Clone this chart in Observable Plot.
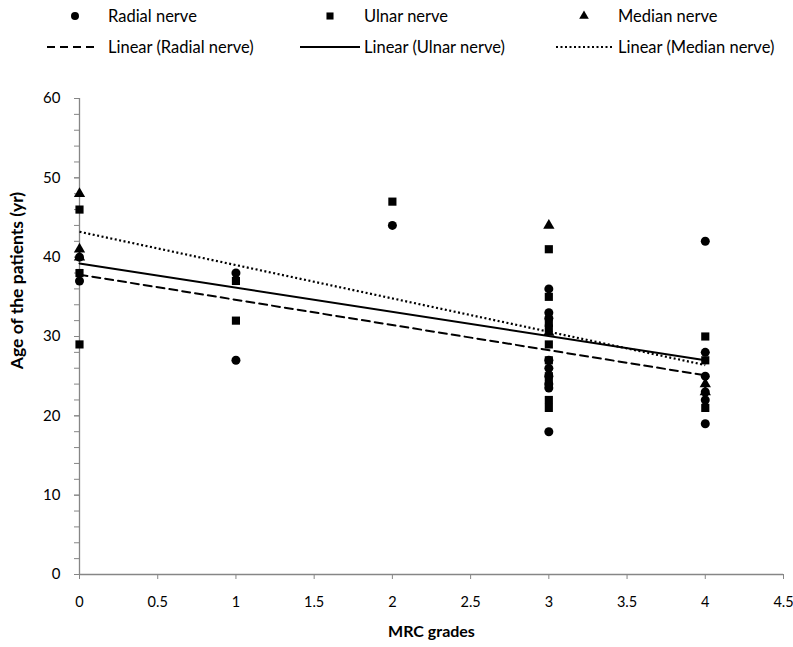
<!DOCTYPE html>
<html><head><meta charset="utf-8">
<script src="https://cdn.jsdelivr.net/npm/d3@7"></script>
<script src="https://cdn.jsdelivr.net/npm/@observablehq/plot@0.6"></script>
<style>
body{margin:0;background:#fff;font-family:Lato,"Open Sans",sans-serif;}
#wrap{position:relative;width:793px;height:647px;}
#legend{position:absolute;left:0;top:0;}
</style></head><body><div id="wrap"><div id="chart"></div></div>
<script>
// MRC grade / age data per nerve
const radialGrade = [0, 0, 1, 1, 2, 3, 3, 3, 3, 3, 3, 3, 3, 3, 4, 4, 4, 4, 4, 4];
const radialAge   = [40, 37, 38, 27, 44, 36, 33, 32.3, 27, 26, 25, 24, 23.5, 18, 42, 28, 25, 23, 22, 19];
const ulnarGrade = [0, 0, 0, 1, 1, 2, 3, 3, 3, 3, 3, 3, 3, 3, 3, 3, 4, 4, 4];
const ulnarAge   = [46, 38, 29, 37, 32, 47, 41, 35, 31.7, 31, 29, 27, 25, 24, 22, 21, 30, 27, 21];
const medianGrade = [0, 0, 0, 3, 3, 4, 4];
const medianAge   = [48, 41, 40, 44, 30.5, 24, 23];
// Linear trend lines (value at grade 0 and grade 4)
const trendGrades = [0, 4];
const radialTrend = [37.8, 25.1];
const ulnarTrend  = [39.2, 27.0];
const medianTrend = [43.2, 26.4];
const xTicks = [0, 0.5, 1, 1.5, 2, 2.5, 3, 3.5, 4, 4.5];
const yTicks = [0, 10, 20, 30, 40, 50, 60];
const yMinor = d3.range(0, 61, 2);

const pts = (g, a) => g.map((x, i) => ({x, y: a[i]}));
const tr = (v) => trendGrades.map((x, i) => ({x, y: v[i]}));
const axisCol = "#868686";
const font = "Lato, 'Open Sans', sans-serif";

const chart = Plot.plot({
  width: 793, height: 647,
  marginLeft: 79, marginRight: 10, marginTop: 98, marginBottom: 73,
  style: {fontFamily: font, fontSize: "15px", color: "#000", background: "#fff"},
  x: {domain: [0, 4.5]},
  y: {domain: [0, 60]},
  marks: [
    Plot.axisY(yMinor, {tickSize: 5, tickFormat: () => "", stroke: axisCol, label: null}),
    Plot.axisY(yTicks, {tickSize: 5, tickPadding: 14, stroke: axisCol, fill: "#000", fontSize: 15, label: null}),
    Plot.axisX(xTicks, {tickSize: 5, tickPadding: 17, stroke: axisCol, fill: "#000", fontSize: 14.5, label: null, tickFormat: (d) => String(d)}),
    Plot.ruleX([0], {stroke: axisCol, strokeWidth: 1.3}),
    Plot.ruleY([0], {stroke: axisCol, strokeWidth: 1.3}),
    Plot.line(tr(radialTrend), {x: "x", y: "y", stroke: "#000", strokeWidth: 2, strokeDasharray: "8,5"}),
    Plot.line(tr(ulnarTrend), {x: "x", y: "y", stroke: "#000", strokeWidth: 2}),
    Plot.line(tr(medianTrend), {x: "x", y: "y", stroke: "#000", strokeWidth: 2.2, strokeDasharray: "2,2.5", strokeLinecap: "butt"}),
    Plot.dot(pts(radialGrade, radialAge), {x: "x", y: "y", r: 4.5, fill: "#000", symbol: "circle"}),
    Plot.dot(pts(ulnarGrade, ulnarAge), {x: "x", y: "y", r: 4.6, fill: "#000", symbol: "square"}),
    Plot.dot(pts(medianGrade, medianAge), {x: "x", y: "y", r: 4.2, fill: "#000", symbol: "triangle"}),
    Plot.text(["MRC grades"], {frameAnchor: "bottom", dy: 62, fontWeight: "bold", fontSize: 16, fill: "#000"}),
    Plot.text(["Age of the patients (yr)"], {frameAnchor: "left", textAnchor: "middle", dx: -62, dy: -56, rotate: -90, fontWeight: "bold", fontSize: 17.5, fill: "#000"})
  ]
});
document.getElementById("chart").appendChild(chart);

// Legend overlay
const legendNames = ["Radial nerve", "Ulnar nerve", "Median nerve"];
const legendSymbols = [d3.symbolCircle, d3.symbolSquare, d3.symbolTriangle];
const legendDash = ["8,5", null, "2,2.5"];
const legendSymX = [75, 330, 584];
const legendLine = [[47, 99], [300, 360], [556, 614]];
const legendTextX = [108, 364, 618];
const svg = d3.select("#wrap").append("svg").attr("id", "legend")
  .attr("width", 793).attr("height", 65)
  .style("font-family", font).style("font-size", "16.5px");
legendNames.forEach((n, i) => {
  svg.append("path").attr("d", d3.symbol(legendSymbols[i], i === 2 ? 40 : 50)())
    .attr("transform", `translate(${legendSymX[i]},16)`).attr("fill", "#000");
  svg.append("text").attr("x", legendTextX[i]).attr("y", 16).attr("dy", "0.35em").text(n);
  const l = svg.append("line").attr("x1", legendLine[i][0]).attr("x2", legendLine[i][1])
    .attr("y1", 47).attr("y2", 47).attr("stroke", "#000").attr("stroke-width", 2);
  if (legendDash[i]) l.attr("stroke-dasharray", legendDash[i]);
  svg.append("text").attr("x", legendTextX[i]).attr("y", 47).attr("dy", "0.35em").text(`Linear (${n})`);
});
</script></body></html>
